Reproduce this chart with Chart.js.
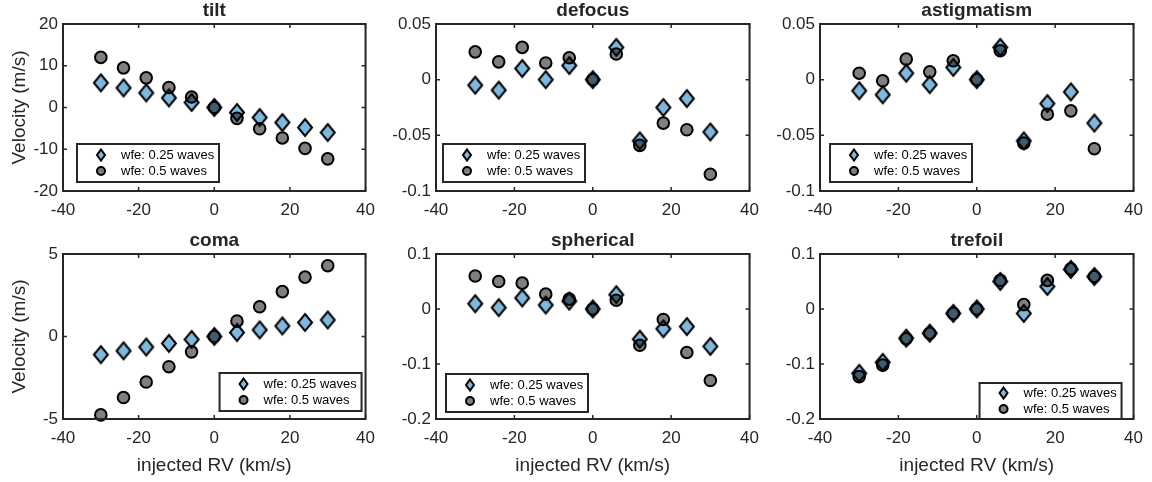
<!DOCTYPE html>
<html>
<head>
<meta charset="utf-8">
<title>Velocity vs injected RV</title>
<script src="https://cdn.jsdelivr.net/npm/chart.js@4.4.1/dist/chart.umd.min.js"></script>
<style>
  html, body { margin: 0; padding: 0; background: #fff; }
  #fig { position: relative; width: 1152px; height: 482px; overflow: hidden; }
  #fig canvas { position: absolute; }
</style>
</head>
<body>
<div id="fig"></div>
<script>
// --- data ---
const injectedRV = [-30, -24, -18, -12, -6, 0, 6, 12, 18, 24, 30];
const xTicks = [-40, -20, 0, 20, 40];
const legendLabels = ['wfe: 0.25 waves', 'wfe: 0.5 waves'];

const tiltQuarter = [5.9, 4.7, 3.5, 2.3, 1.2, 0, -1.2, -2.4, -3.6, -4.8, -6.0];
const tiltHalf    = [12.0, 9.5, 7.1, 4.8, 2.5, 0, -2.6, -5.1, -7.3, -9.8, -12.3];
const tiltTicks   = [-20, -10, 0, 10, 20];

const defocusQuarter = [-0.005, -0.0094, 0.010, 0.0, 0.0127, 0, 0.029, -0.055, -0.025, -0.017, -0.047];
const defocusHalf    = [0.025, 0.016, 0.029, 0.015, 0.0197, 0, 0.023, -0.059, -0.039, -0.045, -0.085];
const defocusTicks   = [-0.1, -0.05, 0, 0.05];

const astigQuarter = [-0.010, -0.0136, 0.0058, -0.0045, 0.011, 0, 0.029, -0.055, -0.0215, -0.011, -0.039];
const astigHalf    = [0.0058, -0.001, 0.0185, 0.007, 0.017, 0, 0.026, -0.057, -0.031, -0.028, -0.062];
const astigTicks   = [-0.1, -0.05, 0, 0.05];

const comaQuarter = [-1.1, -0.87, -0.64, -0.42, -0.18, 0, 0.24, 0.4, 0.64, 0.85, 1.0];
const comaHalf    = [-4.75, -3.7, -2.76, -1.83, -0.93, 0, 0.93, 1.8, 2.72, 3.6, 4.29];
const comaTicks   = [-5, 0, 5];

const sphericalQuarter = [0.0096, 0.0024, 0.020, 0.0072, 0.0144, 0, 0.026, -0.055, -0.036, -0.032, -0.068];
const sphericalHalf    = [0.060, 0.050, 0.047, 0.027, 0.018, 0, 0.016, -0.066, -0.019, -0.079, -0.13];
const sphericalTicks   = [-0.2, -0.1, 0, 0.1];

const trefoilQuarter = [-0.117, -0.097, -0.053, -0.044, -0.008, 0, 0.05, -0.008, 0.041, 0.072, 0.059];
const trefoilHalf    = [-0.123, -0.102, -0.054, -0.044, -0.008, 0, 0.052, 0.008, 0.052, 0.073, 0.059];
const trefoilTicks   = [-0.2, -0.1, 0, 0.1];

// --- look ---
const INK = '#262626';
const FONT = '"Liberation Sans", Arial, Helvetica, sans-serif';
const BLUE = 'rgba(0, 114, 189, 0.5)';
const GREY = 'rgba(0, 0, 0, 0.5)';
const TICK_LEN = 4;

// plot boxes in page pixels; each canvas spans its column and reaches
// from 30px above the plot box down to the row's bottom
const colX = [0, 384, 768], CELL_W = 384;
const canvasTop = [0, 224], canvasBottom = [241, 482];
const boxLeft = [63, 436, 820], boxRight = [372, 750, 1136];
const boxTop = [24, 254], boxBottom = [191, 419];

const panels = [
  { title: 'tilt',        q: tiltQuarter,      h: tiltHalf,      ticks: tiltTicks,      legend: { side: 'left',  dx: 14, dy: 9, h: 38 } },
  { title: 'defocus',     q: defocusQuarter,   h: defocusHalf,   ticks: defocusTicks,   legend: { side: 'left',  dx: 7,  dy: 9, h: 38 } },
  { title: 'astigmatism', q: astigQuarter,     h: astigHalf,     ticks: astigTicks,     legend: { side: 'left',  dx: 10, dy: 9, h: 38 } },
  { title: 'coma',        q: comaQuarter,      h: comaHalf,      ticks: comaTicks,      legend: { side: 'right', dx: 4,  dy: 8, h: 38 } },
  { title: 'spherical',   q: sphericalQuarter, h: sphericalHalf, ticks: sphericalTicks, legend: { side: 'left',  dx: 10, dy: 7, h: 38 } },
  { title: 'trefoil',     q: trefoilQuarter,   h: trefoilHalf,   ticks: trefoilTicks,   legend: { side: 'right', dx: 12, dy: 0, h: 36 } }
];

// tall MATLAB-style diamond as an image marker
function diamondPath(g, x, y, hw, hh) {
  g.beginPath();
  g.moveTo(x, y - hh);
  g.lineTo(x + hw, y);
  g.lineTo(x, y + hh);
  g.lineTo(x - hw, y);
  g.closePath();
}
function makeDiamond(hw, hh, lw) {
  const c = document.createElement('canvas');
  c.width = Math.round(2 * hw + 6);
  c.height = Math.round(2 * hh + 6);
  const g = c.getContext('2d');
  diamondPath(g, c.width / 2, c.height / 2, hw, hh);
  g.fillStyle = BLUE;
  g.fill();
  g.lineWidth = lw;
  g.strokeStyle = '#000';
  g.stroke();
  return c;
}
const diamondImg = makeDiamond(7, 8.5, 2);

// box, inward ticks, title and in-axes legend
const matlabAxes = {
  id: 'matlabAxes',
  afterDraw(chart, args, opts) {
    const { ctx, chartArea: a, scales } = chart;
    ctx.save();
    ctx.strokeStyle = INK;
    ctx.lineWidth = 1.5;
    ctx.beginPath();
    scales.x.ticks.forEach(t => {
      const px = scales.x.getPixelForValue(t.value);
      ctx.moveTo(px, a.bottom); ctx.lineTo(px, a.bottom - TICK_LEN);
      ctx.moveTo(px, a.top);    ctx.lineTo(px, a.top + TICK_LEN);
    });
    scales.y.ticks.forEach(t => {
      const py = scales.y.getPixelForValue(t.value);
      ctx.moveTo(a.left, py);  ctx.lineTo(a.left + TICK_LEN, py);
      ctx.moveTo(a.right, py); ctx.lineTo(a.right - TICK_LEN, py);
    });
    ctx.stroke();
    ctx.lineWidth = 2;
    ctx.strokeRect(a.left, a.top, a.right - a.left, a.bottom - a.top);

    ctx.fillStyle = INK;
    ctx.font = 'bold 19px ' + FONT;
    ctx.textAlign = 'center';
    ctx.textBaseline = 'alphabetic';
    ctx.fillText(opts.title, (a.left + a.right) / 2, a.top - 8);

    // legend
    const L = opts.legend, w = 142;
    const lx = L.side === 'left' ? a.left + L.dx : a.right - L.dx - w;
    const ly = a.bottom - L.dy - L.h;
    ctx.fillStyle = '#fff';
    ctx.fillRect(lx, ly, w, L.h);
    ctx.lineWidth = 2;
    ctx.strokeStyle = INK;
    ctx.strokeRect(lx, ly, w, L.h);

    const mx = lx + 24, r1 = ly + L.h / 2 - 8, r2 = ly + L.h / 2 + 8;
    diamondPath(ctx, mx, r1, 4, 5.5);
    ctx.fillStyle = BLUE; ctx.fill();
    ctx.strokeStyle = '#000'; ctx.lineWidth = 2; ctx.stroke();
    ctx.beginPath();
    ctx.arc(mx, r2, 4, 0, Math.PI * 2);
    ctx.fillStyle = GREY; ctx.fill(); ctx.stroke();

    ctx.fillStyle = '#000';
    ctx.font = '13px ' + FONT;
    ctx.textAlign = 'left';
    ctx.textBaseline = 'middle';
    ctx.fillText(legendLabels[0], lx + 44, r1);
    ctx.fillText(legendLabels[1], lx + 44, r2);
    ctx.restore();
  }
};

const fig = document.getElementById('fig');

panels.forEach((p, i) => {
  const col = i % 3, row = Math.floor(i / 3);
  const cx = colX[col], top = canvasTop[row], bottom = canvasBottom[row];
  const L = boxLeft[col], R = boxRight[col], T = boxTop[row], B = boxBottom[row];

  const canvas = document.createElement('canvas');
  canvas.width = CELL_W;
  canvas.height = bottom - top;
  canvas.style.left = cx + 'px';
  canvas.style.top = top + 'px';
  fig.appendChild(canvas);

  new Chart(canvas.getContext('2d'), {
    type: 'scatter',
    data: {
      datasets: [
        {
          label: legendLabels[0],
          data: injectedRV.map((x, k) => ({ x: x, y: p.q[k] })),
          pointStyle: diamondImg,
          pointRadius: 8,
          clip: false,
          order: 2
        },
        {
          label: legendLabels[1],
          data: injectedRV.map((x, k) => ({ x: x, y: p.h[k] })),
          pointStyle: 'circle',
          pointRadius: 5.8,
          pointBorderWidth: 2,
          pointBackgroundColor: GREY,
          pointBorderColor: '#000',
          clip: false,
          order: 1
        }
      ]
    },
    options: {
      responsive: false,
      animation: false,
      events: [],
      layout: { padding: { top: T - top, right: cx + CELL_W - R, left: 0, bottom: 0 } },
      plugins: {
        legend: { display: false },
        tooltip: { enabled: false },
        matlabAxes: { title: p.title, legend: p.legend }
      },
      scales: {
        x: {
          type: 'linear',
          min: -40, max: 40,
          afterBuildTicks: s => { s.ticks = xTicks.map(v => ({ value: v })); },
          afterFit: s => { s.height = bottom - B; },
          grid: { display: false, drawTicks: false },
          border: { display: false },
          ticks: { autoSkip: false, maxRotation: 0, padding: 9, color: INK, font: { family: FONT, size: 17 }, callback: v => String(v) },
          title: { display: row === 1, text: 'injected RV (km/s)', color: INK, font: { family: FONT, size: 19 }, padding: { top: 0, bottom: 5 } }
        },
        y: {
          type: 'linear',
          min: p.ticks[0], max: p.ticks[p.ticks.length - 1],
          afterBuildTicks: s => { s.ticks = p.ticks.map(v => ({ value: v })); },
          afterFit: s => { s.width = L - cx; },
          grid: { display: false, drawTicks: false },
          border: { display: false },
          ticks: { autoSkip: false, padding: 5, color: INK, font: { family: FONT, size: 17 }, callback: v => String(v) },
          title: { display: col === 0, text: 'Velocity (m/s)', color: INK, font: { family: FONT, size: 19 }, padding: { top: 8, bottom: 0 } }
        }
      }
    },
    plugins: [matlabAxes]
  });
});
</script>
</body>
</html>
